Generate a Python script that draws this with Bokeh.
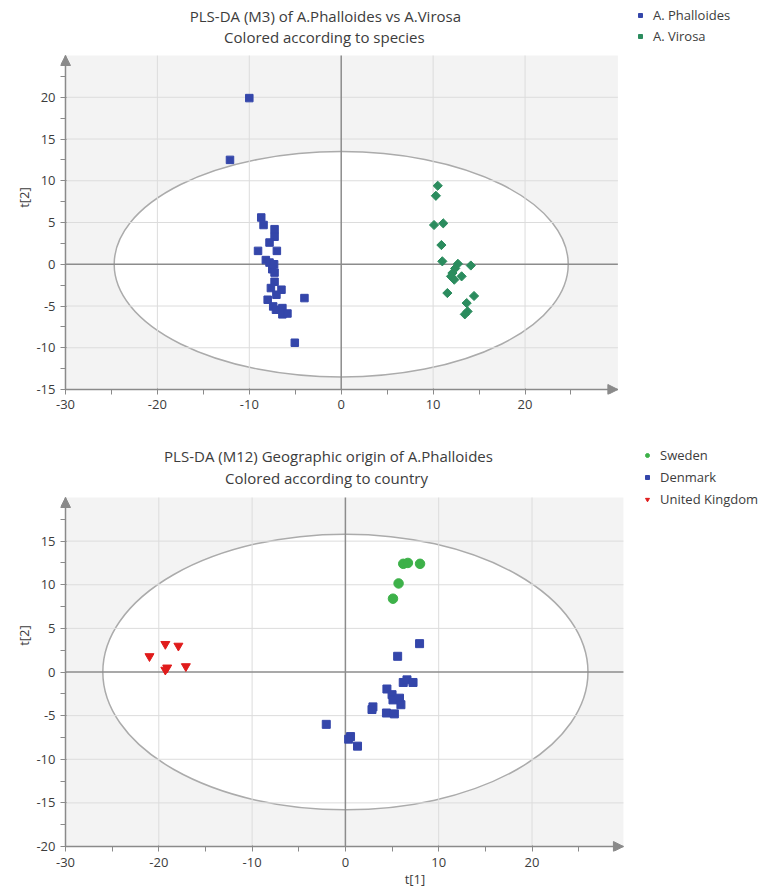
from bokeh.plotting import figure
from bokeh.models import (Arrow, NormalHead, FixedTicker, Legend, LegendItem, Label)
from bokeh.layouts import column
from bokeh.embed import file_html
from bokeh.resources import INLINE

# ---------------- data ----------------
# Top chart: PLS-DA (M3) A.Phalloides vs A.Virosa
phal_t1 = [-10.0, -12.1, -8.7, -8.45, -7.25, -7.25, -7.8, -9.05, -7.0, -8.2, -7.8, -7.3, -7.5,
           -7.25, -7.25, -7.65, -6.5, -7.05, -8.0, -4.0, -7.4, -7.1, -6.4, -6.4, -5.85, -5.05]
phal_t2 = [19.9, 12.5, 5.6, 4.7, 4.2, 3.3, 2.6, 1.6, 1.6, 0.5, 0.2, 0.0, -0.6,
           -1.0, -2.1, -2.85, -3.05, -3.65, -4.25, -4.05, -5.05, -5.45, -5.25, -6.0, -5.9, -9.4]
vir_t1 = [10.5, 10.3, 10.1, 11.1, 10.9, 11.0, 12.7, 14.1, 12.4, 12.1, 13.1, 11.95, 12.3,
          11.55, 14.45, 13.65, 13.75, 13.45]
vir_t2 = [9.4, 8.2, 4.7, 4.9, 2.3, 0.35, 0.05, -0.15, -0.5, -1.05, -1.45, -1.45, -1.85,
          -3.45, -3.8, -4.65, -5.65, -6.0]
ellipse1_semi = (24.7, 13.5)

# Bottom chart: PLS-DA (M12) geographic origin
swe_t1 = [6.2, 6.7, 8.0, 5.7, 5.1]
swe_t2 = [12.4, 12.5, 12.4, 10.15, 8.4]
den_t1 = [7.95, 5.6, 6.2, 6.6, 7.25, 4.45, 5.0, 5.1, 5.8, 5.95, 4.4, 5.25, 2.95, 2.85,
          -2.05, 0.55, 0.35, 1.3]
den_t2 = [3.25, 1.8, -1.2, -0.9, -1.2, -1.95, -2.6, -3.2, -3.0, -3.75, -4.7, -4.8, -4.0, -4.3,
          -6.0, -7.4, -7.7, -8.5]
uk_t1 = [-21.0, -19.3, -17.9, -17.1, -19.1, -19.3]
uk_t2 = [1.8, 3.2, 3.0, 0.65, 0.5, 0.25]
ellipse2_semi = (26.0, 15.8)

x_major = [-30, -20, -10, 0, 10, 20]
x_labels = ["-30", "-20", "-10", "0", "10", "20"]
x_minor = [-25, -15, -5, 5, 15, 25]
y1_major = [-15, -10, -5, 0, 5, 10, 15, 20]
y1_labels = ["-15", "-10", "-5", "0", "5", "10", "15", "20"]
y1_minor = [-12.5, -7.5, -2.5, 2.5, 7.5, 12.5, 17.5, 22.5]
y2_major = [-20, -15, -10, -5, 0, 5, 10, 15]
y2_labels = ["-20", "-15", "-10", "-5", "0", "5", "10", "15"]
y2_minor = [-17.5, -12.5, -7.5, -2.5, 2.5, 7.5, 12.5, 17.5]

x1_lim = (-30, 30.1)
y1_lim = (-15, 25)
x2_lim = (-30, 29.8)
y2_lim = (-20, 20)

FONT = "Open Sans"
BLUE = "#3446AA"
GREEN_D = "#2B8C5E"
GREEN_C = "#3DB149"
RED = "#E01B1B"
AXIS = "#8a8a8a"
TXT = "#3c3c3c"
PAD = 5  # px between frame edge and drawn axis line
W = 769


def chart(height, left, bottom, page_top, xlim, ylim, sx, sy, yt, ylab, ym, semi,
          xlabel, titles, leg_entries, leg_glyph_left, leg_top, leg_spacing):
    fw, fh = W - left, height - bottom
    x0 = xlim[0] - PAD / sx
    y0 = ylim[0] - PAD / sy
    x1 = x0 + fw / sx
    y1 = y0 + fh / sy
    p = figure(width=W, height=height, x_range=(x0, x1), y_range=(y0, y1),
               output_backend="svg", toolbar_location=None,
               min_border_left=left, min_border_right=0,
               min_border_top=0, min_border_bottom=bottom)
    p.background_fill_color = "white"
    p.border_fill_color = "white"
    p.outline_line_color = None
    p.grid.visible = False

    def pg(px, py):  # page pixel -> data coords
        return x0 + (px - left) / sx, y1 - (py - page_top) / sy

    # plot area + T2 ellipse
    p.quad(left=xlim[0], right=xlim[1], bottom=ylim[0], top=ylim[1],
           fill_color="#f3f3f3", line_color=None, level="image")
    p.ellipse(x=0, y=0, width=2 * semi[0], height=2 * semi[1], fill_color="white",
              line_color="#ababab", line_width=1.5, level="image")
    gx = [t for t in x_major if t not in (0, xlim[0])]
    gy = [t for t in yt if t not in (0, ylim[0])]
    p.segment(x0=gx, y0=[ylim[0]] * len(gx), x1=gx, y1=[ylim[1]] * len(gx),
              line_color="#dcdcdc", line_width=1, level="underlay")
    p.segment(x0=[xlim[0]] * len(gy), y0=gy, x1=[xlim[1]] * len(gy), y1=gy,
              line_color="#dcdcdc", line_width=1, level="underlay")
    p.segment(x0=[0, xlim[0]], y0=[ylim[0], 0], x1=[0, xlim[1]], y1=[ylim[1], 0],
              line_color="#8c8c8c", line_width=1.5, level="underlay")
    # axis lines with arrow heads
    p.segment(x0=[xlim[0], xlim[0]], y0=[ylim[0], ylim[0]], x1=[xlim[0], xlim[1]],
              y1=[ylim[1], ylim[0]], line_color=AXIS, line_width=1.5)
    head = dict(size=10, fill_color=AXIS, line_color=AXIS)
    p.add_layout(Arrow(end=NormalHead(**head), x_start=xlim[0], y_start=ylim[1] - 3,
                       x_end=xlim[0], y_end=ylim[1], line_alpha=0))
    p.add_layout(Arrow(end=NormalHead(**head), x_start=xlim[1] - 5, y_start=ylim[0],
                       x_end=xlim[1], y_end=ylim[0], line_alpha=0))
    # axes (ticks + labels)
    p.xaxis.ticker = FixedTicker(ticks=x_major, minor_ticks=x_minor)
    p.yaxis.ticker = FixedTicker(ticks=yt, minor_ticks=ym)
    p.xaxis.major_label_overrides = dict(zip(x_major, x_labels))
    p.yaxis.major_label_overrides = dict(zip(yt, ylab))
    p.xaxis.bounds = xlim
    p.yaxis.bounds = ylim
    for ax in (p.xaxis[0], p.yaxis[0]):
        ax.axis_line_alpha = 0
        ax.major_tick_line_color = AXIS
        ax.minor_tick_line_color = AXIS
        ax.major_tick_out = 0
        ax.major_tick_in = PAD + 1
        ax.minor_tick_out = 0
        ax.minor_tick_in = PAD
        ax.major_label_text_font = FONT
        ax.major_label_text_font_size = "13px"
        ax.major_label_text_color = TXT
        ax.axis_label_text_font = FONT
        ax.axis_label_text_font_size = "13px"
        ax.axis_label_text_font_style = "normal"
        ax.axis_label_text_color = TXT
        ax.major_label_standoff = 5
        ax.axis_label_standoff = 0
    p.yaxis.axis_label = "t[2]"
    if xlabel:
        p.xaxis.axis_label = xlabel
        p.xaxis.axis_label_standoff = 0
        p.xaxis.major_label_standoff = 6
    # titles
    for text, px, py in titles:
        tx, ty = pg(px, py)
        p.add_layout(Label(x=tx, y=ty, text=text, text_align="center",
                           text_baseline="middle", text_font=FONT,
                           text_font_size="15px", text_color=TXT))
    # legend
    items = []
    for label, xs, ys, kw in leg_entries:
        r = p.scatter(xs, ys, **kw)
        items.append(LegendItem(label=label, renderers=[r]))
    n = len(items)
    lh = 18 * n + leg_spacing * (n - 1)
    lg = Legend(items=items, location=(leg_glyph_left - left, fh - leg_top - lh),
                padding=0, margin=0, spacing=leg_spacing,
                glyph_width=10, glyph_height=18, label_height=18, label_standoff=8,
                border_line_color=None, background_fill_alpha=0,
                label_text_font=FONT, label_text_font_size="13px",
                label_text_color=TXT)
    p.add_layout(lg)
    return p


# ---------------- top chart ----------------
H1 = 419
p1 = chart(H1, 57, 25, 0, x1_lim, y1_lim, 9.23, 8.35, y1_major, y1_labels, y1_minor,
           ellipse1_semi, None,
           [("PLS-DA (M3) of A.Phalloides vs A.Virosa", 323, 15),
            ("Colored according to species", 322, 36)],
           [("A. Phalloides", phal_t1, phal_t2,
             dict(marker="square", size=7.5, fill_color=BLUE, line_color=BLUE)),
            ("A. Virosa", vir_t1, vir_t2,
             dict(marker="square", angle=0.785398, size=6.5, fill_color=GREEN_D,
                  line_color=GREEN_D))],
           632, 6, 3)

# ---------------- bottom chart ----------------
H2 = 474
p2 = chart(H2, 60, 42, H1, x2_lim, y2_lim, 9.33, 8.725, y2_major, y2_labels, y2_minor,
           ellipse2_semi, "t[1]",
           [("PLS-DA (M12) Geographic origin of A.Phalloides", 328, 455),
            ("Colored according to country", 326, 477)],
           [("Sweden", swe_t1, swe_t2,
             dict(marker="circle", size=9.5, fill_color=GREEN_C, line_color=GREEN_C)),
            ("Denmark", den_t1, den_t2,
             dict(marker="square", size=8, fill_color=BLUE, line_color=BLUE)),
            ("United Kingdom", uk_t1, uk_t2,
             dict(marker="inverted_triangle", size=9, fill_color=RED, line_color=RED))],
           642, 27, 4)

layout = column(p1, p2, spacing=0)
open("out.html", "w").write(file_html(layout, INLINE))
